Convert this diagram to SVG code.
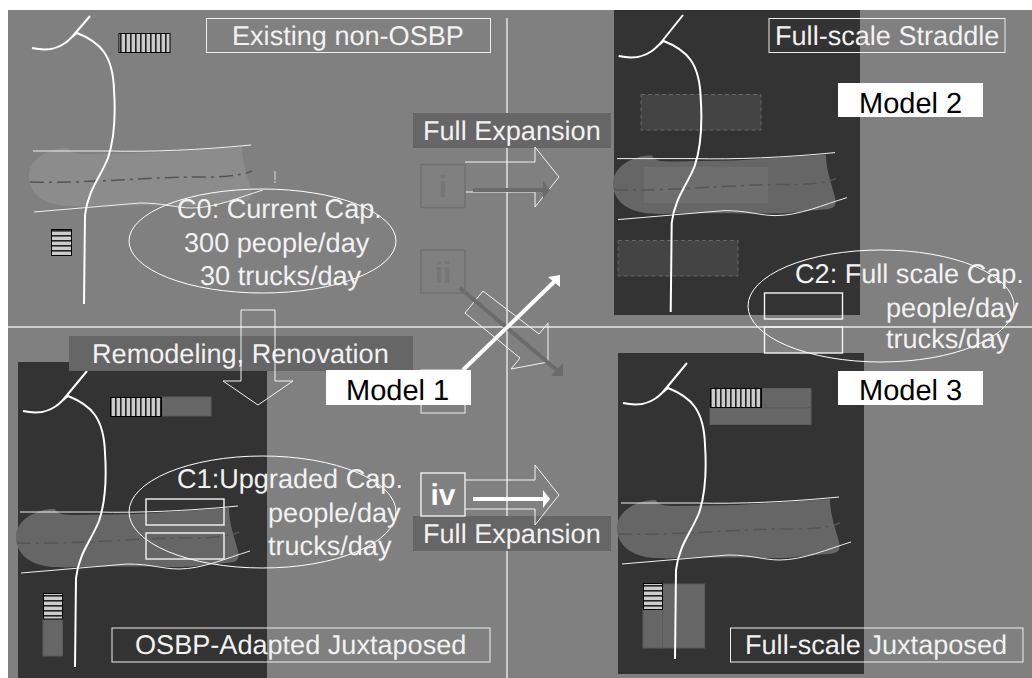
<svg xmlns="http://www.w3.org/2000/svg" xmlns:xlink="http://www.w3.org/1999/xlink" width="1032" height="678" viewBox="0 0 1032 678">
<style>
text{font-family:"Liberation Sans",Arial,sans-serif;font-size:27.1px;fill:#f2f2f2;text-rendering:geometricPrecision}
text.k{fill:#000;font-size:29px}
text.b{font-weight:bold;font-size:30px;text-anchor:middle}
.dark{fill:#333}
.band{fill:#666}
.wl{fill:#fff}
.road{fill:none;stroke:#fff;stroke-width:2}
.edge{fill:none;stroke:#f0f0f0;stroke-width:1}
.mid{fill:none;stroke:#555;stroke-width:1.5;stroke-dasharray:14 5 3 5}
.box{fill:none;stroke:#eee;stroke-width:1}
.cap{fill:none;stroke:#f4f4f4;stroke-width:1.4}
.ell{fill:none;stroke:#fff;stroke-width:1}
.dash{fill:#444;stroke:#666;stroke-width:1;stroke-dasharray:4 3}
.ext{fill:#666;stroke:#5c5c5c;stroke-width:1}
.hv{fill:url(#hv);stroke:#000;stroke-width:1}
.hh{fill:url(#hh);stroke:#000;stroke-width:1}
.ghost{fill:none;stroke:#707070;stroke-width:1.5}
.blk{fill:none;stroke:#f4f4f4;stroke-width:1}
</style>
<defs>
<pattern id="hv" width="5" height="10" patternUnits="userSpaceOnUse"><rect width="5" height="10" fill="#ccc"/><rect width="1.6" height="10" fill="#222"/></pattern>
<pattern id="hh" width="10" height="5" patternUnits="userSpaceOnUse"><rect width="10" height="5" fill="#ccc"/><rect width="10" height="1.6" fill="#222"/></pattern>
<path id="water" d="M29,176 C29,160 46,150 63,148 L68,148 C70,153 76,154 90,154 L150,153 L242,147 C242,163 248,178 251,190 C253,199 250,201 240,202 C215,204 205,206 192,206 C170,206 130,205 89,206 C78,207 70,206 65,206 C42,204 29,192 29,176 Z"/>
<path id="road" d="M32,48 C50,52 62,48 72,37 L77,33 C100,42 113,55 114,90 C116,120 114,140 108,158 C100,178 88,190 85,215 L84,304"/>
<path id="lines" d="M33,151 L110,151 C150,152 200,150 251,145 M34,212 L140,203 C165,203 175,208 192,208 C215,208 240,197 263,190"/>
<path id="mid" d="M30,182 C90,184 150,176 215,177 C230,176 243,175 252,171"/>
</defs>

<rect x="8" y="10" width="1024" height="668" fill="#808080"/>

<g id="panel-existing">
<use xlink:href="#water" fill="#8c8c8c"/>
<use xlink:href="#mid" class="mid"/>
<use xlink:href="#lines" class="edge"/>
<use xlink:href="#road" class="road"/>
<line x1="72" y1="37" x2="90" y2="16" class="road"/>
<line x1="275" y1="171" x2="275" y2="183" stroke="#ddd" stroke-width="1" stroke-dasharray="9 1 2"/>
<rect x="119" y="33.500" width="51" height="19" class="hv"/>
<rect x="51.500" y="229.500" width="20" height="26" class="hh"/>
</g>

<g id="panel-straddle">
<rect x="614" y="10" width="246" height="305" class="dark"/>
<use xlink:href="#water" x="584" y="7.600" fill="#666"/>
<rect x="644" y="167" width="124" height="36" fill="#6e6e6e"/>
<use xlink:href="#mid" x="584" y="7.600" class="mid"/>
<use xlink:href="#lines" x="584" y="7.600" class="edge"/>
<rect x="641" y="94.500" width="120" height="35.500" class="dash"/>
<rect x="618" y="240.500" width="120" height="35.500" class="dash"/>
<use xlink:href="#road" x="586.700" y="8" class="road"/>
<line x1="659" y1="45" x2="683" y2="15" class="road"/>
</g>

<g id="panel-adapted">
<rect x="18" y="362" width="249" height="316" class="dark"/>
<use xlink:href="#water" x="-13" y="361" fill="#666"/>
<use xlink:href="#mid" x="-13" y="361" class="mid"/>
<use xlink:href="#lines" x="-13" y="361" class="edge"/>
<use xlink:href="#road" x="-9" y="363" class="road"/>
<line x1="63" y1="400" x2="87" y2="371" class="road"/>
<rect x="161" y="397" width="50" height="19" class="ext"/>
<rect x="43" y="619" width="19.500" height="37" class="ext"/>
<rect x="110.500" y="397.500" width="51" height="19" class="hv"/>
<rect x="43.500" y="593.500" width="19" height="25.500" class="hh"/>
</g>

<g id="panel-juxtaposed">
<rect x="618" y="353" width="246" height="321" class="dark"/>
<use xlink:href="#water" x="588" y="352" fill="#666"/>
<use xlink:href="#mid" x="588" y="352" class="mid"/>
<use xlink:href="#lines" x="588" y="352" class="edge"/>
<rect x="761" y="388.500" width="50" height="19" class="ext"/>
<rect x="710" y="408" width="101" height="16.500" class="ext"/>
<rect x="643" y="609" width="19.500" height="39" class="ext"/>
<rect x="662.500" y="584" width="42" height="64" class="ext"/>
<use xlink:href="#road" x="591" y="355" class="road"/>
<line x1="663" y1="392" x2="687" y2="363" class="road"/>
<rect x="710.500" y="388.500" width="51" height="19" class="hv"/>
<rect x="643.500" y="583.500" width="19" height="26" class="hh"/>
</g>

<g id="axes" stroke="#e8e8e8" stroke-width="1.400">
<line x1="8" y1="327" x2="1032" y2="327"/>
<line x1="507" y1="18" x2="507" y2="678"/>
</g>

<g id="band-top"><rect x="413" y="113" width="198" height="35" class="band"/><text x="423" y="140">Full Expansion</text></g>
<g id="band-remodel"><rect x="69" y="336" width="344" height="35" class="band"/><text x="92" y="363">Remodeling, Renovation</text></g>
<g id="band-bottom"><rect x="413" y="516" width="198" height="35" class="band"/><text x="423" y="543">Full Expansion</text></g>

<g id="title-existing"><rect x="206.500" y="18.500" width="284" height="34" class="box"/><text x="232" y="45">Existing non-OSBP</text></g>
<g id="title-straddle"><rect x="769" y="18.500" width="236" height="34" class="box"/><text x="775" y="45">Full-scale Straddle</text></g>
<g id="title-adapted"><rect x="112" y="628" width="378" height="34" class="box"/><text x="135" y="654">OSBP-Adapted Juxtaposed</text></g>
<g id="title-juxtaposed"><rect x="730.500" y="628" width="292.500" height="34" class="box"/><text x="745" y="654">Full-scale Juxtaposed</text></g>

<g id="connectors">
<path class="blk" d="M465,162 H535 V147 L559,177 L535,207 V192 H465"/>
<path class="blk" d="M465,480 H535 V465 L559,495 L535,525 V509 H465"/>
<path class="blk" d="M241,381 V310 H275 V381 H293 L258,405 L223,381 Z"/>
<path class="blk" d="M483,291 L539,334 L548,323 V362 L511,369 L520,358 L465,313 Z"/>
<line x1="473" y1="190" x2="545" y2="190" stroke="#6b6b6b" stroke-width="4"/>
<polygon points="543,181 550,190 543,199" fill="#6b6b6b"/>
<line x1="473" y1="499" x2="545" y2="499" stroke="#fff" stroke-width="4"/>
<polygon points="543,490 550,499 543,508" fill="#fff"/>
<line x1="460" y1="288" x2="559" y2="372" stroke="#6b6b6b" stroke-width="4"/>
<polygon points="563,363 563,376 551,376" fill="#6b6b6b"/>
<line x1="463" y1="370" x2="555" y2="281" stroke="#fff" stroke-width="4"/>
<polygon points="560,275 548,277 560,287" fill="#fff"/>
</g>

<g id="node-i"><rect x="421" y="164.500" width="44" height="43" class="ghost"/><text x="443" y="197" class="b" style="fill:#767676">i</text></g>
<g id="node-ii"><rect x="421" y="250" width="44" height="43" class="ghost"/><text x="443" y="283" class="b" style="fill:#767676">ii</text></g>
<g id="node-iii"><rect x="421" y="370" width="44" height="43" fill="none" stroke="#eee" stroke-width="1"/></g>
<g id="node-iv"><rect x="421" y="473" width="44" height="43" fill="none" stroke="#eee" stroke-width="1.400"/><text x="443" y="505" class="b" style="fill:#fff">iv</text></g>

<g id="cap-c0">
<ellipse cx="262.500" cy="241" rx="133.500" ry="52" class="ell"/>
<text x="177" y="218">C0: Current Cap.</text><text x="184" y="252">300 people/day</text><text x="200" y="285">30 trucks/day</text>
</g>
<g id="cap-c1">
<ellipse cx="262.500" cy="512" rx="133.500" ry="56" class="ell"/>
<rect x="146" y="499" width="78" height="26" class="cap"/><rect x="146" y="533" width="78" height="26" class="cap"/>
<text x="177" y="488">C1:Upgraded Cap.</text><text x="268" y="522">people/day</text><text x="268" y="555">trucks/day</text>
</g>
<g id="cap-c2">
<ellipse cx="881" cy="306" rx="133" ry="56" class="ell"/>
<rect x="764.500" y="293" width="78" height="26" class="cap"/><rect x="764.500" y="327" width="78" height="26" class="cap"/>
<text x="795" y="283">C2: Full scale Cap.</text><text x="886" y="317">people/day</text><text x="886" y="348">trucks/day</text>
</g>

<g id="model-1"><rect x="326" y="370" width="145" height="35" class="wl"/><text x="346" y="400" class="k">Model 1</text></g>
<g id="model-2"><rect x="838" y="83" width="145" height="34" class="wl"/><text x="859" y="113" class="k">Model 2</text></g>
<g id="model-3"><rect x="838" y="371" width="145" height="34" class="wl"/><text x="859" y="400" class="k">Model 3</text></g>
</svg>
